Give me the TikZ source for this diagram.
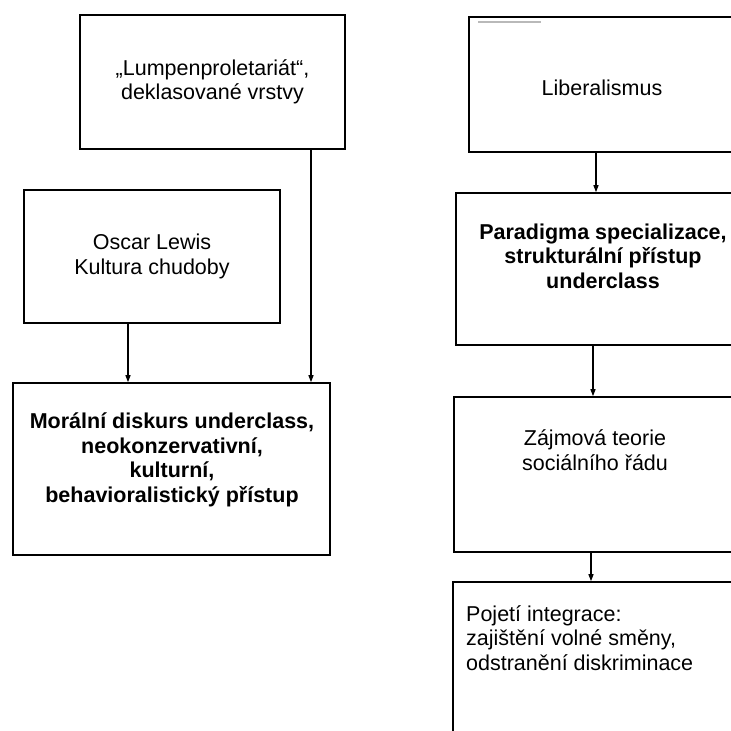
\documentclass[tikz,border=0pt]{standalone}
\usepackage{fontspec}
\setmainfont{Liberation Sans}
\usetikzlibrary{arrows.meta}

\begin{document}
\begin{tikzpicture}[
    x=1pt, y=-1pt,
    box/.style={rectangle, draw, line width=1.6pt, inner sep=0pt, align=center,
                font=\fontsize{21.5}{24.5}\selectfont},
    txt/.style={align=center, inner sep=0pt, font=\fontsize{21.5}{24.5}\selectfont},
    arrow/.style={-{Triangle[length=7pt,width=5pt]}, line width=1.2pt}
]
\useasboundingbox (0,0) rectangle (731,731);
\clip (0,0) rectangle (731,731);

% Left column
\node[box, minimum width=265pt, minimum height=134pt] (lump) at (212.5,82)
    {„Lumpenproletariát“,\\ deklasované vrstvy};
\node[box, minimum width=256pt, minimum height=133pt] (lewis) at (152,256.5)
    {Oscar Lewis\\Kultura chudoby};
\node[box, minimum width=317pt, minimum height=172pt] (moral) at (171.5,469) {};
\node[txt, font=\fontsize{21.5}{24.5}\selectfont\bfseries] (moral-t) at (172,460)
    {Morální diskurs underclass,\\neokonzervativní,\\kulturní,\\behavioralistický přístup};
\draw[arrow] ([xshift=-24pt]lewis.south) -- ([xshift=-24pt]lewis.south |- moral.north);
\draw[arrow] ([xshift=98.5pt]lump.south) -- ([xshift=98.5pt]lump.south |- moral.north);

% Right column
\node[box, minimum width=269pt, minimum height=135pt] (liberal) at (603.5,84.5) {};
\node[txt] (liberal-t) at (602,88) {Liberalismus};
\draw[gray!55, line width=1.5pt] ([xshift=10pt,yshift=-6pt]liberal.north west) -- ++(63,0);
\node[box, minimum width=289pt, minimum height=152pt] (paradigm) at (600.5,269) {};
\node[txt, font=\fontsize{21.5}{24.5}\selectfont\bfseries] (paradigm-t) at (603,256)
    {Paradigma specializace,\\strukturální přístup\\underclass};
\node[box, minimum width=286pt, minimum height=155pt] (zajem) at (597,474.5) {};
\node[txt] (zajem-t) at (595,450) {Zájmová teorie\\sociálního řádu};
\node[box, minimum width=287pt, minimum height=208pt] (integr) at (596.5,686) {};
\node[txt, align=left, anchor=west] (integr-t) at (466,638)
    {Pojetí integrace:\\zajištění volné směny,\\odstranění diskriminace};
\draw[arrow] ([xshift=-7.5pt]liberal.south) -- ([xshift=-7.5pt]liberal.south |- paradigm.north);
\draw[arrow] ([xshift=-7.5pt]paradigm.south) -- ([xshift=-7.5pt]paradigm.south |- zajem.north);
\draw[arrow] ([xshift=-6pt]zajem.south) -- ([xshift=-6pt]zajem.south |- integr.north);

\end{tikzpicture}
\end{document}
